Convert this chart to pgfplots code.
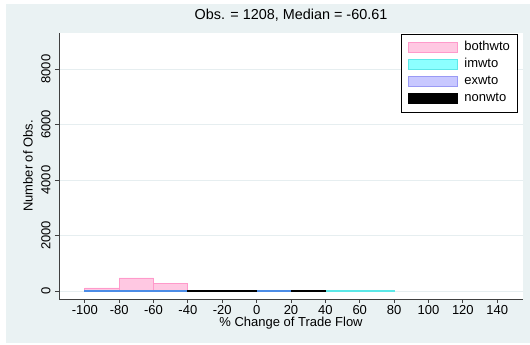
\documentclass[border=0pt]{standalone}
\usepackage{fontspec}
\setmainfont{Liberation Sans}
\usepackage{pgfplots}
\pgfplotsset{compat=1.18}
\definecolor{bg}{HTML}{EAF2F3}
\definecolor{gridc}{HTML}{E6EEF0}
\definecolor{pinkf}{HTML}{FFC8E2}
\definecolor{pinkd}{HTML}{FF9ACB}
\definecolor{cyanf}{HTML}{8CFFFF}
\definecolor{cyand}{HTML}{5CE8E8}
\definecolor{lavf}{HTML}{C8C8FF}
\definecolor{lavd}{HTML}{9A9AF5}
\definecolor{exline}{HTML}{4C8CE6}
\begin{document}
\fontsize{13pt}{15pt}\selectfont
\begin{tikzpicture}[x=1pt,y=1pt]
\fill[white] (0,0) rectangle (530,345);
\fill[bg] (6,2) rectangle (530,341);
\begin{axis}[
  at={(59pt,46pt)}, anchor=south west,
  scale only axis, width=464pt, height=266pt,
  xmin=-115, xmax=155, ymin=-290, ymax=9300,
  axis x line*=bottom, axis y line*=left,
  axis line style={black!75, line width=0.8pt},
  axis background/.style={fill=white},
  xtick={-100,-80,...,140},
  ytick={0,2000,4000,6000,8000},
  scaled y ticks=false,
  /pgf/number format/1000 sep={},
  /pgf/number format/assume math mode=true,
  tick align=outside, major tick length=4pt,
  tick style={black!75, line width=0.8pt},
  ymajorgrids, grid style={gridc, line width=0.8pt},
  ticklabel style={font=\fontsize{13pt}{15pt}\selectfont},
  xticklabel style={inner sep=2pt},
  yticklabel style={rotate=90, anchor=south},
  title={Obs. = 1208, Median = -60.61},
  title style={at={(axis description cs:0.5,1)}, anchor=center, yshift=12pt, font=\fontsize{14.4pt}{16pt}\selectfont},
  xlabel={\% Change of Trade Flow},
  xlabel style={at={(axis description cs:0.5,0)}, anchor=center, yshift=-24pt, inner sep=0pt},
  ylabel={Number of Obs.},
  ylabel style={at={(axis description cs:-0.0668,0.5)}, anchor=center},
  legend style={at={(rel axis cs:0.9886,0.996)}, anchor=north east,
    draw=black, fill=white, line width=0.6pt, inner xsep=6.5pt, inner ysep=5.5pt,
    row sep=1pt, column sep=6pt,
    nodes={text height=10pt, text depth=4pt, inner sep=1pt, font=\fontsize{13pt}{15pt}\selectfont}},
  legend cell align=left,
]
% bothwto
\addplot[ybar interval, fill=pinkf, draw=pinkd, line width=0.8pt,
  legend image code/.code={\draw[fill=pinkf, draw=pinkd, line width=0.8pt] (0pt,-5pt) rectangle (49pt,5pt);}]
  coordinates {(-100,110) (-80,470) (-60,265) (-40,0)};
\addlegendentry{bothwto}
\addplot[ybar interval, fill=pinkf, draw=pinkd, line width=0.8pt, forget plot]
  coordinates {(40,5) (60,0)};
% imwto
\addplot[ybar interval, fill=cyanf, draw=cyand, line width=0.8pt,
  legend image code/.code={\draw[fill=cyanf, draw=cyand, line width=0.8pt] (0pt,-5pt) rectangle (49pt,5pt);}]
  coordinates {(20,5) (40,12) (60,10) (80,0)};
\addlegendentry{imwto}
% exwto
\addplot[ybar interval, fill=lavf, draw=exline, line width=0.8pt,
  legend image code/.code={\draw[fill=lavf, draw=lavd, line width=0.8pt] (0pt,-5pt) rectangle (49pt,5pt);}]
  coordinates {(-100,20) (-80,20) (-60,20) (-40,0)};
\addlegendentry{exwto}
\addplot[ybar interval, fill=lavf, draw=exline, line width=0.8pt, forget plot]
  coordinates {(0,10) (20,0)};
% nonwto
\addplot[ybar interval, fill=black, draw=black, line width=0.8pt,
  legend image code/.code={\draw[fill=black, draw=black, line width=0.8pt] (0pt,-5pt) rectangle (49pt,5pt);}]
  coordinates {(-40,15) (-20,10) (0,0)};
\addlegendentry{nonwto}
\addplot[ybar interval, fill=black, draw=black, line width=0.8pt, forget plot]
  coordinates {(20,15) (40,0)};
\end{axis}
\end{tikzpicture}
\end{document}
